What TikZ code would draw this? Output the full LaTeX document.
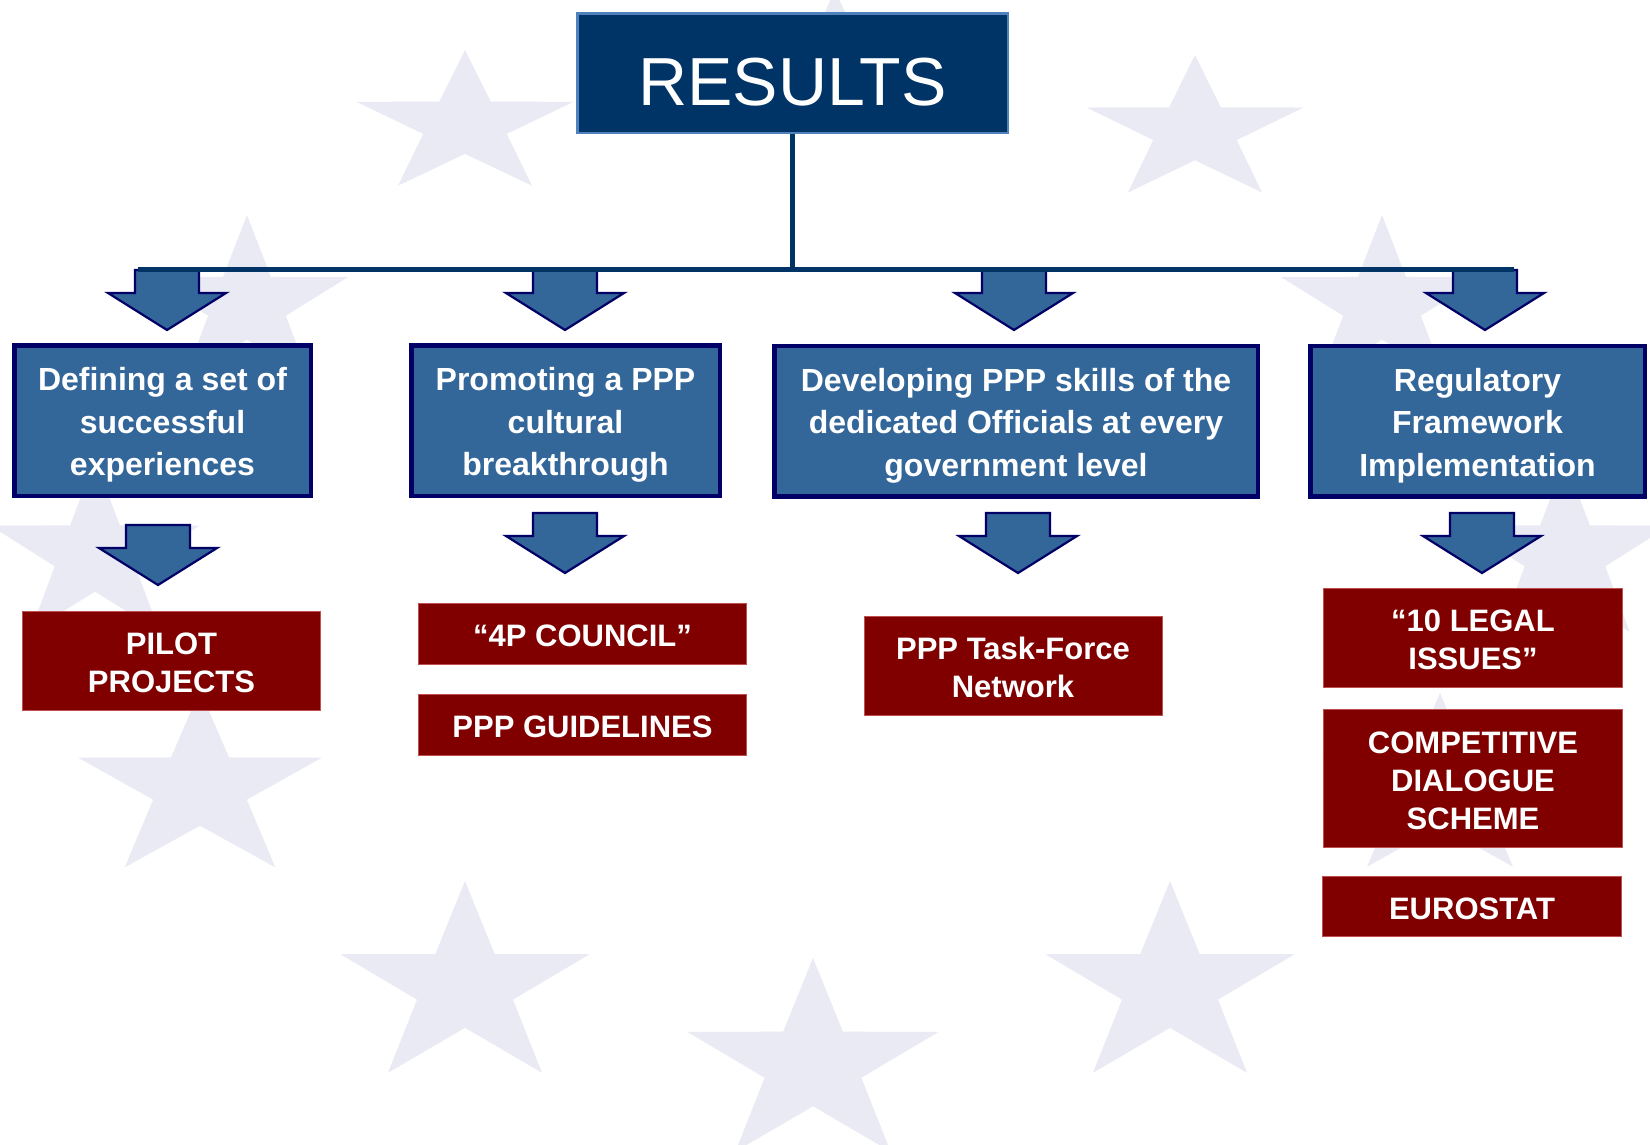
\documentclass[tikz,border=0pt]{standalone}
\usepackage{fontspec}
\setmainfont{Liberation Sans}
\definecolor{navyline}{RGB}{0,51,102}
\definecolor{titlefill}{RGB}{0,51,102}
\definecolor{titleedge}{RGB}{79,129,189}
\definecolor{boxfill}{RGB}{51,102,153}
\definecolor{boxedge}{RGB}{0,0,102}
\definecolor{redfill}{RGB}{128,0,0}
\definecolor{rededge}{RGB}{190,80,80}
\definecolor{starfill}{RGB}{234,234,244}
\newcommand\bstrut{\rule[-8.75pt]{0pt}{42.5pt}}
\newcommand\rstrut{\rule[-6.5pt]{0pt}{38pt}}
\newcommand\eustar[4]{\fill[starfill] ({#1},{#2-#4})
  \foreach \a/\k in {126/0.385,162/1,198/0.385,234/1,270/0.385,306/1,342/0.385,18/1,54/0.385}{ -- ({#1+\k*#3*cos(\a)},{#2-\k*#4*sin(\a)}) } -- cycle;}
\newcommand\blockarr[1]{\draw[blockarrow, shift={(#1)}] (-32,0) -- (32,0) -- (32,23) -- (59,23) -- (0,60) -- (-59,23) -- (-32,23) -- cycle;}
\begin{document}
\begin{tikzpicture}[x=1pt,y=-1pt,
  titlebox/.style={draw=titleedge, line width=2.5pt, fill=titlefill, text=white,
    font=\fontsize{68}{80}\selectfont, text height=64pt, text depth=0pt,
    inner sep=0pt, minimum width=430.5pt, minimum height=119.5pt},
  bluebox/.style={draw=boxedge, line width=4.5pt, fill=boxfill, text=white, align=center,
    font=\fontsize{32}{42.5}\selectfont\bfseries, inner sep=0pt, minimum height=150.5pt},
  redbox/.style={draw=rededge, line width=1pt, fill=redfill, text=white, align=center,
    font=\fontsize{31}{38}\selectfont\bfseries, inner sep=0pt, minimum width=298pt},
  blockarrow/.style={draw=boxedge, line width=2.2pt, fill=boxfill, line join=miter},
  trunk/.style={draw=navyline, line width=5pt}]
\useasboundingbox (0,0) rectangle (1650,1144);
\fill[white] (0,0) rectangle (1650,1144);
% background stars
\eustar{835}{70}{110}{80}
\eustar{465}{125}{114}{75}
\eustar{1195}{131}{114}{76}
\eustar{247}{305}{106}{90}
\eustar{1382}{305}{106}{90}
\eustar{95}{555}{110}{95}
\eustar{1565}{555}{110}{95}
\eustar{200}{788}{128}{98}
\eustar{1440}{789}{124}{96}
\eustar{465}{987}{131}{106}
\eustar{1170}{987}{131}{106}
\eustar{813}{1065}{132}{107}
% arrow positions
\coordinate (ta1) at (167,270);
\coordinate (ta2) at (565,270);
\coordinate (ta3) at (1014,270);
\coordinate (ta4) at (1485,270);
\coordinate (la1) at (158,525);
\coordinate (la2) at (565,513);
\coordinate (la3) at (1018,513);
\coordinate (la4) at (1482,513);
\blockarr{ta1}\blockarr{ta2}\blockarr{ta3}\blockarr{ta4}
\blockarr{la1}\blockarr{la2}\blockarr{la3}\blockarr{la4}
% title and trunk
\node[titlebox] (title) at (792.5,73) {RESULTS};
\coordinate (hl) at (138,269.5);
\coordinate (hr) at (1514,269.5);
\draw[trunk] (title.south) -- (title.south |- hl);
\draw[trunk] (hl) -- (hr);
% blue boxes
\node[bluebox, minimum width=296.5pt] (b1) at (162.5,420.5)
  {\bstrut Defining a set of\\\bstrut successful\\\bstrut experiences};
\node[bluebox, minimum width=308.5pt] (b2) at (565.5,420.5)
  {\bstrut Promoting a PPP\\\bstrut cultural\\\bstrut breakthrough};
\node[bluebox, minimum width=483.5pt] (b3) at (1016,421)
  {\bstrut Developing PPP skills of the\\\bstrut dedicated Officials at every\\\bstrut government level};
\node[bluebox, minimum width=334.5pt] (b4) at (1477.5,421)
  {\bstrut Regulatory\\\bstrut Framework\\\bstrut Implementation};
% red boxes
\node[redbox, minimum height=99pt] (r1) at (171.5,661) {\rstrut PILOT\\\rstrut PROJECTS};
\node[redbox, minimum width=328pt, minimum height=61pt] (r2) at (582.5,634) {\rstrut “4P COUNCIL”};
\node[redbox, minimum width=328pt, minimum height=61pt] (r3) at (582.5,725) {\rstrut PPP GUIDELINES};
\node[redbox, minimum height=99pt] (r4) at (1013,666) {\rstrut PPP Task-Force\\\rstrut Network};
\node[redbox, minimum width=299pt, minimum height=99pt] (r5) at (1473,638) {\rstrut “10 LEGAL\\\rstrut ISSUES”};
\node[redbox, minimum width=299pt, minimum height=138pt] (r6) at (1473,778.5) {\rstrut COMPETITIVE\\\rstrut DIALOGUE\\\rstrut SCHEME};
\node[redbox, minimum width=299pt, minimum height=60pt] (r7) at (1472,906.5) {\rstrut EUROSTAT};
\end{tikzpicture}
\end{document}
